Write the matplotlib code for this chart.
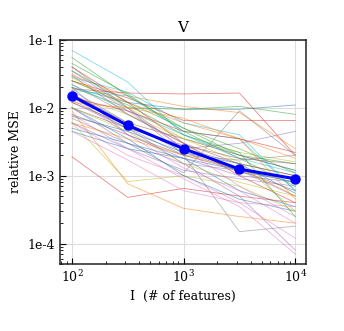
import numpy as np
import matplotlib
matplotlib.use("Agg")
import matplotlib.pyplot as plt
from matplotlib.ticker import FuncFormatter, LogLocator

n_features = [100, 316, 1000, 3162, 10000]
mean_mse = [1.5e-2, 5.5e-3, 2.5e-3, 1.25e-3, 9.0e-4]

# individual runs (one thin line each)
runs = [
    [2.0e-2, 1.2e-2, 9.5e-3, 9.5e-3, 1.1e-2],
    [3.0e-2, 1.5e-2, 1.05e-2, 8.5e-3, 2.5e-3],
    [2.0e-2, 1.0e-2, 9.5e-3, 1.05e-2, 8.0e-3],
    [1.9e-2, 1.65e-2, 1.6e-2, 1.65e-2, 2.0e-3],
    [1.2e-2, 5.0e-3, 1.5e-3, 5.0e-4, 8.0e-5],
    [8.0e-3, 4.0e-3, 2.0e-3, 1.2e-3, 6.0e-4],
    [6.0e-3, 2.0e-3, 1.0e-3, 4.0e-4, 1.2e-4],
    [7.0e-3, 3.0e-3, 1.1e-3, 9.0e-3, 2.0e-3],
    [6.0e-3, 8.2e-4, 1.0e-3, 7.0e-4, 3.0e-4],
    [7.0e-2, 2.4e-2, 4.0e-3, 2.0e-3, 1.2e-3],
    [4.5e-3, 2.5e-3, 1.8e-3, 6.0e-4, 3.5e-4],
    [2.5e-2, 1.2e-2, 6.0e-3, 3.5e-3, 1.8e-3],
    [5.5e-2, 1.5e-2, 5.0e-3, 2.0e-3, 1.5e-3],
    [1.9e-3, 4.8e-4, 6.5e-4, 5.0e-4, 4.0e-4],
    [1.0e-2, 3.0e-3, 1.5e-3, 1.2e-3, 5.0e-4],
    [3.0e-2, 8.0e-3, 3.0e-3, 1.5e-3, 1.0e-3],
    [1.5e-2, 4.0e-3, 1.3e-3, 6.0e-4, 2.0e-4],
    [4.0e-2, 1.0e-2, 2.0e-3, 1.5e-4, 1.8e-4],
    [1.5e-2, 8.0e-3, 3.5e-3, 2.2e-3, 1.6e-3],
    [2.8e-2, 1.7e-2, 6.0e-3, 4.0e-3, 6.0e-4],
    [1.0e-2, 3.5e-3, 1.0e-3, 4.5e-4, 3.0e-4],
    [9.0e-3, 7.6e-4, 3.3e-4, 2.5e-4, 2.0e-4],
    [4.5e-2, 1.6e-2, 4.5e-3, 1.8e-3, 7.0e-4],
    [2.5e-2, 1.4e-2, 6.5e-3, 6.5e-3, 6.5e-3],
    [3.5e-2, 1.0e-2, 2.5e-3, 3.0e-3, 4.5e-3],
    [1.2e-2, 5.5e-3, 2.5e-3, 1.5e-3, 1.0e-3],
    [8.0e-3, 2.5e-3, 9.0e-4, 3.5e-4, 7.0e-5],
    [1.8e-2, 6.0e-3, 2.2e-3, 1.2e-3, 8.0e-4],
    [1.0e-2, 4.5e-3, 1.5e-3, 8.0e-4, 5.0e-4],
    [2.2e-2, 9.0e-3, 4.0e-3, 1.8e-3, 1.1e-3],
    [5.0e-3, 3.0e-3, 1.8e-3, 1.2e-3, 8.0e-4],
    [6.0e-3, 3.5e-3, 2.0e-3, 1.3e-3, 5.0e-4],
    [3.5e-2, 1.2e-2, 5.0e-3, 2.5e-3, 1.1e-3],
    [4.0e-2, 1.2e-2, 3.0e-3, 1.0e-3, 4.0e-4],
    [6.0e-3, 2.5e-3, 1.2e-3, 9.0e-4, 7.0e-4],
    [1.6e-2, 6.0e-3, 3.5e-3, 2.0e-3, 1.2e-3],
    [3.2e-2, 9.0e-3, 2.5e-3, 7.0e-4, 2.5e-4],
    [1.3e-2, 5.0e-3, 2.0e-3, 1.7e-3, 2.0e-3],
    [2.8e-2, 1.0e-2, 3.5e-3, 1.6e-3, 3.0e-4],
    [1.8e-2, 1.5e-2, 4.5e-3, 3.5e-3, 6.0e-4],
    [7.5e-3, 4.5e-3, 2.2e-3, 1.5e-3, 5.5e-4],
    [1.2e-2, 1.0e-2, 7.0e-3, 3.5e-3, 4.5e-4],
    [2.5e-2, 1.1e-2, 4.0e-3, 2.2e-3, 2.5e-4],
    [1.4e-2, 9.0e-3, 4.5e-3, 3.5e-3, 2.2e-3],
    [2.0e-2, 4.0e-3, 1.8e-3, 1.0e-3, 8.0e-4],
    [1.0e-2, 5.0e-3, 2.8e-3, 1.8e-3, 1.5e-3],
    [4.5e-3, 1.7e-3, 6.0e-4, 4.0e-4, 3.5e-4],
    [2.2e-2, 8.0e-3, 3.0e-3, 1.1e-3, 9.0e-4],
]

plt.rcParams['font.family'] = 'DejaVu Serif'
plt.rcParams['mathtext.fontset'] = 'dejavuserif'

fig = plt.figure(figsize=(3.44, 3.31), dpi=100)
ax = fig.add_axes([0.1744, 0.2024, 0.715, 0.677])

colors = plt.get_cmap('tab10').colors
for i, r in enumerate(runs):
    ax.plot(n_features, r, color=colors[i % 10], lw=0.6, alpha=0.55)

ax.plot(n_features, mean_mse, 'o-', color='blue', lw=2.2, ms=6.5, zorder=5)

ax.set_xscale('log')
ax.set_yscale('log')
ax.set_xlim(10**1.893, 10**4.096)
ax.set_ylim(5.0e-5, 1e-1)

ax.yaxis.set_major_locator(LogLocator(base=10, numticks=10))
ax.yaxis.set_major_formatter(FuncFormatter(lambda v, p: f"1e{int(round(np.log10(v)))}"))
ax.grid(True, which='major', color='#dddddd', lw=0.8)
ax.set_axisbelow(True)

ax.tick_params(which='both', direction='in', top=False, right=False, labelsize=9)
ax.tick_params(which='major', length=4)
ax.tick_params(which='minor', length=2)
for s in ax.spines.values():
    s.set_linewidth(1.1)
    s.set_color('#222222')

ax.set_title('V', fontsize=11)
ax.set_ylabel('relative MSE', fontsize=9)
ax.set_xlabel('I  (# of features)', fontsize=9)

plt.savefig('out.png', dpi=100)
